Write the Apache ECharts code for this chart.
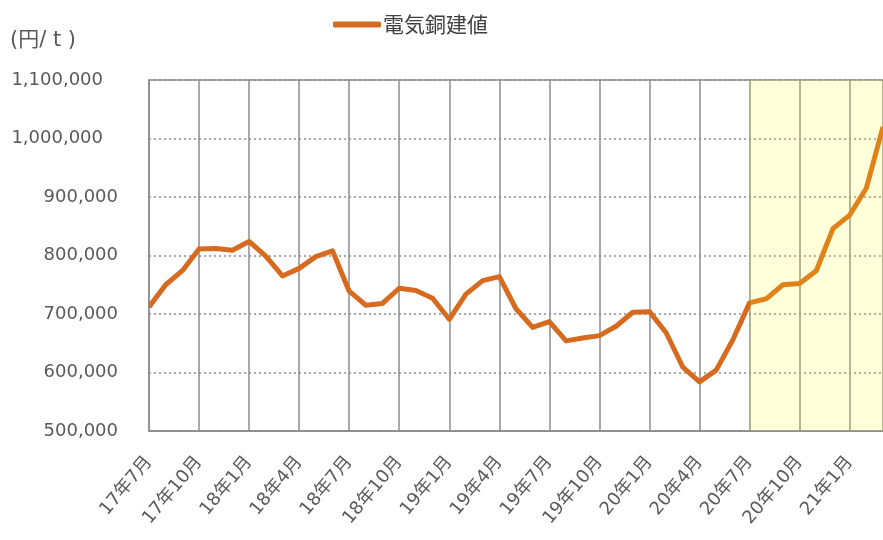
<!DOCTYPE html>
<html>
<head>
<meta charset="utf-8">
<script src="https://cdn.jsdelivr.net/npm/echarts@6/dist/echarts.min.js"></script>
<style>
  html, body { margin: 0; padding: 0; background: #fff; }
  #main { width: 883px; height: 540px; }
</style>
</head>
<body>
<div id="main"></div>
<script>
// 月次ラベル 17年7月 ～ 21年3月
var months = [];
for (var y = 17, m = 7; !(y === 21 && m === 4); ) {
    months.push(y + '年' + m + '月');
    m++;
    if (m > 12) { m = 1; y++; }
}

var seriesName = '電気銅建値';
var copperPrice = [
    712000, 750000, 774000, 811000, 812000, 809000, 824000, 799000, 765000, 778000, 798000, 808000,
    739000, 715000, 718000, 744000, 740000, 727000, 691000, 734000, 757000, 764000, 709000, 677000,
    687000, 654000, 659000, 663000, 679000, 703000, 704000, 668000, 609000, 584000, 604000, 656000,
    719000, 726000, 750000, 752000, 774000, 846000, 869000, 915000, 1020000
];
var yTicks = [500000, 600000, 700000, 800000, 900000, 1000000, 1100000];
var highlightFrom = 36; // 20年7月

var textColor = '#595959';
var gridColor = '#8c8c8c';

var myChart = echarts.init(document.getElementById('main'));

var option = {
    animation: false,
    textStyle: { fontFamily: 'DejaVu Sans, Noto Sans CJK JP' },
    graphic: [{
        type: 'text',
        left: 10,
        top: 30,
        style: { text: '(円/ t )', fill: textColor, font: '21px DejaVu Sans, Noto Sans CJK JP' }
    }],
    legend: {
        top: 9,
        left: 328,
        icon: 'roundRect',
        itemWidth: 48,
        itemHeight: 6,
        itemGap: 4,
        itemStyle: { color: '#D66A1F' },
        textStyle: { fontSize: 21, color: '#404040', fontFamily: 'Noto Sans CJK JP', padding: [0, 0, 0, -3] },
        data: [seriesName]
    },
    grid: {
        left: 149,
        right: 0,
        top: 80,
        bottom: 109,
        show: true,
        borderColor: gridColor,
        borderWidth: 1.5
    },
    xAxis: {
        type: 'category',
        data: months,
        boundaryGap: false,
        axisLine: { lineStyle: { color: gridColor, width: 1.5 } },
        axisTick: { show: false },
        axisLabel: {
            interval: function (i) { return i % 3 === 0; },
            rotate: 50,
            margin: 28,
            color: textColor,
            fontSize: 18,
            fontFamily: 'DejaVu Sans, Noto Sans CJK JP'
        },
        splitLine: {
            show: true,
            interval: function (i) { return i % 3 === 0; },
            lineStyle: { color: gridColor, width: 1.5 }
        }
    },
    yAxis: {
        type: 'value',
        min: yTicks[0],
        max: yTicks[yTicks.length - 1],
        interval: 100000,
        axisLine: { show: false },
        axisTick: { show: false },
        axisLabel: {
            margin: 31,
            color: textColor,
            fontSize: 18,
            formatter: function (v) {
                var s = v.toLocaleString('en-US');
                return v >= 1000000 ? '{big|' + s + '}' : s;
            },
            rich: {
                big: { fontSize: 18, color: textColor, padding: [0, 15, 0, 0] }
            }
        },
        splitLine: {
            lineStyle: { color: gridColor, width: 1.5, type: [2, 3] }
        }
    },
    visualMap: {
        show: false,
        type: 'piecewise',
        dimension: 0,
        seriesIndex: 0,
        pieces: [
            { gte: 0, lte: highlightFrom, color: '#D66A1F' },
            { gt: highlightFrom, lte: months.length - 1, color: '#E0821A' }
        ]
    },
    series: [{
        name: seriesName,
        type: 'line',
        data: copperPrice,
        color: '#D66A1F',
        symbol: 'none',
        lineStyle: { width: 5, join: 'round' },
        markArea: {
            silent: true,
            itemStyle: { color: 'rgba(255,255,0,0.15)' },
            data: [[{ xAxis: months[highlightFrom] }, { xAxis: months[months.length - 1] }]]
        }
    }]
};

myChart.setOption(option);
</script>
</body>
</html>
